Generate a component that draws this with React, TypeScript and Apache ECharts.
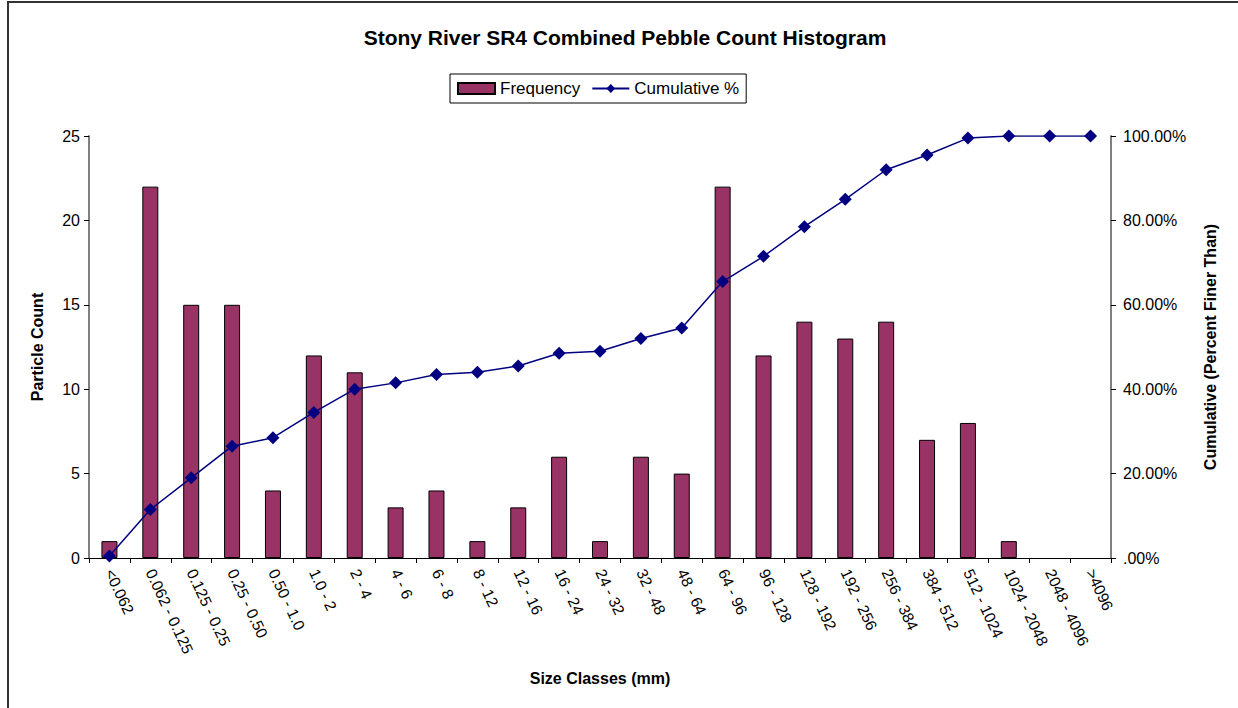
import React, { useEffect, useRef } from "react";
import * as echarts from "echarts";

const categories = [
  "<0.062", "0.062 - 0.125", "0.125 - 0.25", "0.25 - 0.50", "0.50 - 1.0", "1.0 - 2",
  "2 - 4", "4 - 6", "6 - 8", "8 - 12", "12 - 16", "16 - 24", "24 - 32", "32 - 48",
  "48 - 64", "64 - 96", "96 - 128", "128 - 192", "192 - 256", "256 - 384", "384 - 512",
  "512 - 1024", "1024 - 2048", "2048 - 4096", ">4096",
];
const frequency = [1, 22, 15, 15, 4, 12, 11, 3, 4, 1, 3, 6, 1, 6, 5, 22, 12, 14, 13, 14, 7, 8, 1, 0, 0];
const cumulative = [0.5, 11.5, 19, 26.5, 28.5, 34.5, 40, 41.5, 43.5, 44, 45.5, 48.5, 49, 52, 54.5, 65.5, 71.5, 78.5, 85, 92, 95.5, 99.5, 100, 100, 100];

const FONT = "'Liberation Sans', Arial, sans-serif";

export default function App() {
  const ref = useRef<HTMLDivElement>(null);
  useEffect(() => {
    if (!ref.current) return;
    const chart = echarts.init(ref.current, null, { renderer: "svg" });
    chart.setOption({
      animation: false,
      backgroundColor: "#ffffff",
      textStyle: { fontFamily: FONT },
      graphic: [
        {
          type: "rect",
          shape: { x: 8, y: 2, width: 1240, height: 720 },
          style: { fill: "none", stroke: "#333333", lineWidth: 2 },
          silent: true,
        },
        {
          type: "text",
          x: 625,
          y: 37,
          style: {
            text: "Stony River SR4 Combined Pebble Count Histogram",
            fontFamily: FONT,
            fontSize: 21,
            fontWeight: "bold",
            fill: "#000",
            textAlign: "center",
            textVerticalAlign: "middle",
          },
        },
      ],
      legend: {
        left: 450,
        top: 74,
        padding: [6, 7],
        itemGap: 11,
        itemWidth: 37,
        itemHeight: 11,
        borderColor: "#000",
        borderWidth: 1,
        textStyle: { fontFamily: FONT, fontSize: 17, color: "#000" },
        data: [
          { name: "Frequency", icon: "rect" },
          { name: "Cumulative %" },
        ],
      },
      grid: { left: 89, right: 127, top: 136, bottom: 150, containLabel: false },
      xAxis: {
        type: "category",
        data: categories,
        name: "Size Classes (mm)",
        nameLocation: "middle",
        nameGap: 112,
        nameTextStyle: { fontFamily: FONT, fontSize: 16, fontWeight: "bold", color: "#000" },
        axisLine: { lineStyle: { color: "#000", width: 1 } },
        axisTick: { show: true, length: 5, lineStyle: { color: "#000" } },
        axisLabel: {
          interval: 0,
          rotate: -65,
          margin: 12,
          fontFamily: FONT,
          fontSize: 15.5,
          color: "#000",
        },
      },
      yAxis: [
        {
          type: "value",
          min: 0,
          max: 25,
          interval: 5,
          name: "Particle Count",
          nameLocation: "middle",
          nameGap: 44,
          nameTextStyle: { fontFamily: FONT, fontSize: 16, fontWeight: "bold", color: "#000" },
          axisLine: { show: true, lineStyle: { color: "#808080", width: 2 } },
          axisTick: { show: true, length: 5, lineStyle: { color: "#000" } },
          axisLabel: { fontFamily: FONT, fontSize: 16, color: "#000", margin: 9 },
          splitLine: { show: false },
        },
        {
          type: "value",
          min: 0,
          max: 100,
          interval: 20,
          position: "right",
          name: "Cumulative (Percent Finer Than)",
          nameLocation: "middle",
          nameGap: 91,
          nameTextStyle: { fontFamily: FONT, fontSize: 16, fontWeight: "bold", color: "#000" },
          axisLine: { show: true, lineStyle: { color: "#808080", width: 2 } },
          axisTick: { show: true, length: 5, lineStyle: { color: "#000" } },
          axisLabel: {
            fontFamily: FONT,
            fontSize: 16,
            color: "#000",
            margin: 12,
            formatter: (v: number) => (v === 0 ? ".00%" : v.toFixed(2) + "%"),
          },
          splitLine: { show: false },
        },
      ],
      series: [
        {
          name: "Frequency",
          type: "bar",
          data: frequency.map((v) => (v === 0 ? null : v)),
          barWidth: 16,
          yAxisIndex: 0,
          itemStyle: { color: "#993366", borderColor: "#000", borderWidth: 1 },
        },
        {
          name: "Cumulative %",
          type: "line",
          data: cumulative,
          yAxisIndex: 1,
          symbol: "diamond",
          symbolSize: 13,
          lineStyle: { color: "#000080", width: 1.5 },
          itemStyle: { color: "#000080" },
        },
      ],
    });
    return () => chart.dispose();
  }, []);
  return (
    <div
      ref={ref}
      style={{ position: "absolute", left: 0, top: 0, width: 1238, height: 708 }}
    />
  );
}
